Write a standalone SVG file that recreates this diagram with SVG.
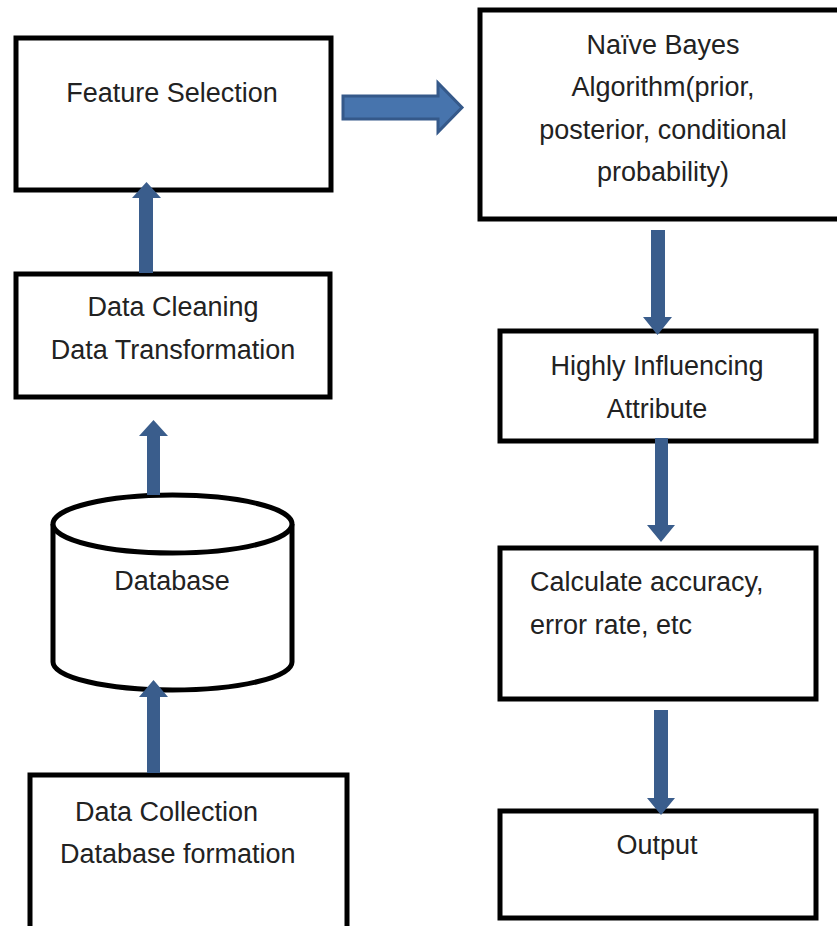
<svg xmlns="http://www.w3.org/2000/svg" width="837" height="926" viewBox="0 0 837 926">
<style>
.box{fill:#fff;stroke:#000;stroke-width:5}
.t{font-family:"Liberation Sans",Arial,sans-serif;font-size:27px;fill:#222}
.c{text-anchor:middle}
.arr{fill:#3a5d8c}
.harr{fill:#4774ad;stroke:#35598a;stroke-width:3;stroke-linejoin:miter}
</style>
<rect width="837" height="926" fill="#fff"/>
<g id="feature-selection">
<rect class="box" x="16" y="38" width="315" height="152"/>
<text class="t c" x="172" y="102">Feature Selection</text>
</g>
<g id="naive-bayes">
<rect class="box" x="480" y="10" width="370" height="209"/>
<text class="t c" x="663" y="54">Naïve Bayes</text>
<text class="t c" x="663" y="96">Algorithm(prior,</text>
<text class="t c" x="663" y="139">posterior, conditional</text>
<text class="t c" x="663" y="181">probability)</text>
</g>
<g id="data-cleaning">
<rect class="box" x="16" y="274" width="314" height="123"/>
<text class="t c" x="173" y="316">Data Cleaning</text>
<text class="t c" x="173" y="359">Data Transformation</text>
</g>
<g id="database">
<path class="box" d="M53,524 V662 A119.5,28 0 0 0 292,662 V524"/>
<ellipse class="box" cx="172.5" cy="524" rx="119.5" ry="29"/>
<text class="t c" x="172" y="590">Database</text>
</g>
<g id="data-collection">
<rect class="box" x="30" y="775" width="317" height="175"/>
<text class="t" x="75" y="821">Data Collection</text>
<text class="t" x="60" y="863">Database formation</text>
</g>
<g id="highly-influencing">
<rect class="box" x="500" y="331" width="316" height="110"/>
<text class="t c" x="657" y="375">Highly Influencing</text>
<text class="t c" x="657" y="418">Attribute</text>
</g>
<g id="calculate-accuracy">
<rect class="box" x="500" y="548" width="316" height="151"/>
<text class="t" x="530" y="591">Calculate accuracy,</text>
<text class="t" x="530" y="634">error rate, etc</text>
</g>
<g id="output">
<rect class="box" x="500" y="811" width="316" height="107"/>
<text class="t c" x="657" y="854">Output</text>
</g>
<g id="connectors">
<polygon class="harr" points="343,96 438,96 438,83 462,107.5 438,132 438,119 343,119"/>
<polygon class="arr" points="139,273 139,198 132,198 146.5,182 161,198 153,198 153,273"/>
<polygon class="arr" points="147,495 147,436 139,436 153.5,420 168,436 160,436 160,495"/>
<polygon class="arr" points="147,773 147,697 139,697 153.5,680 168,697 160,697 160,773"/>
<polygon class="arr" points="651,230 665,230 665,317 672,317 657.5,335 643,317 651,317"/>
<polygon class="arr" points="655,438 668,438 668,525 675,525 661,542 647,525 655,525"/>
<polygon class="arr" points="654,710 668,710 668,798 675,798 661,815 647,798 654,798"/>
</g>
</svg>
